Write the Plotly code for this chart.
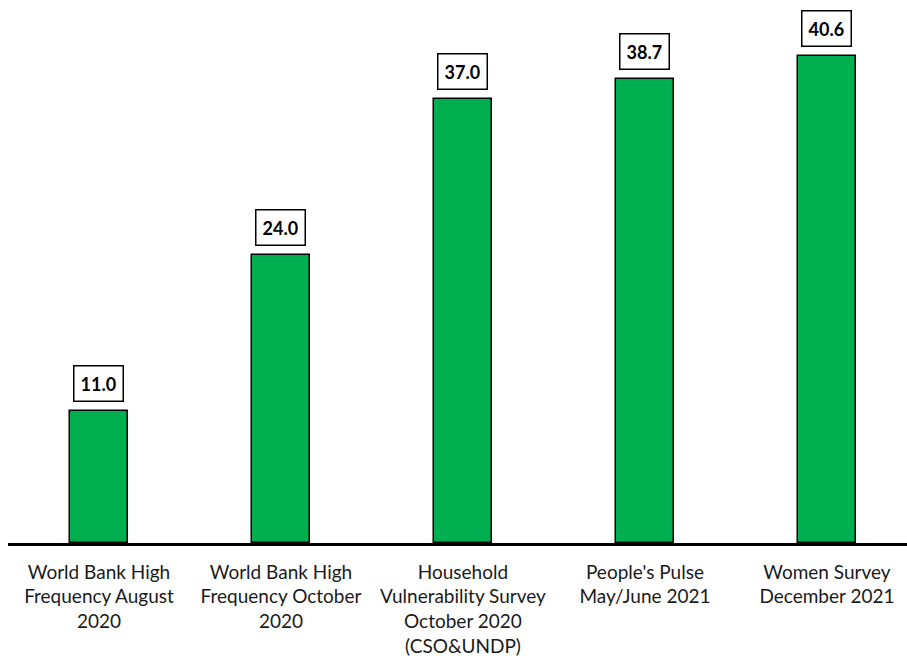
import plotly.graph_objects as go

categories = [
    "World Bank High<br>Frequency August<br>2020",
    "World Bank High<br>Frequency October<br>2020",
    "Household<br>Vulnerability Survey<br>October 2020<br>(CSO&UNDP)",
    "People's Pulse<br>May/June 2021",
    "Women Survey<br>December 2021",
]
values = [11.0, 24.0, 37.0, 38.7, 40.6]
labels = ["11.0", "24.0", "37.0", "38.7", "40.6"]

fig = go.Figure()
fig.add_trace(go.Bar(
    x=categories, y=values, width=0.32,
    marker=dict(color="#00B050", line=dict(color="black", width=1.5)),
))

for c, v, t in zip(categories, values, labels):
    fig.add_annotation(
        x=c, y=v, text="<b>%s</b>" % t, showarrow=False,
        yanchor="bottom", yshift=9,
        font=dict(family="Lato", size=18, color="black"),
        bgcolor="white", bordercolor="black", borderwidth=1.5, borderpad=6,
    )

fig.update_layout(
    width=907, height=662,
    margin=dict(l=8, r=0, t=3, b=119),
    plot_bgcolor="white", paper_bgcolor="white",
    showlegend=False,
    font=dict(family="Lato", size=19, color="#1a1a1a"),
    xaxis=dict(
        range=[-0.5, 4.44], showline=True, linecolor="black", linewidth=2.5,
        ticks="", showgrid=False, tickangle=0, ticklabelstandoff=10,
        automargin=False,
    ),
    yaxis=dict(range=[0, 45], visible=False, showgrid=False, zeroline=False,
               automargin=False),
    bargap=0,
)

fig.write_html(
    "out.html",
    config={"displayModeBar": False},
    post_script="document.body.style.margin='0';document.body.style.overflow='hidden';",
)
